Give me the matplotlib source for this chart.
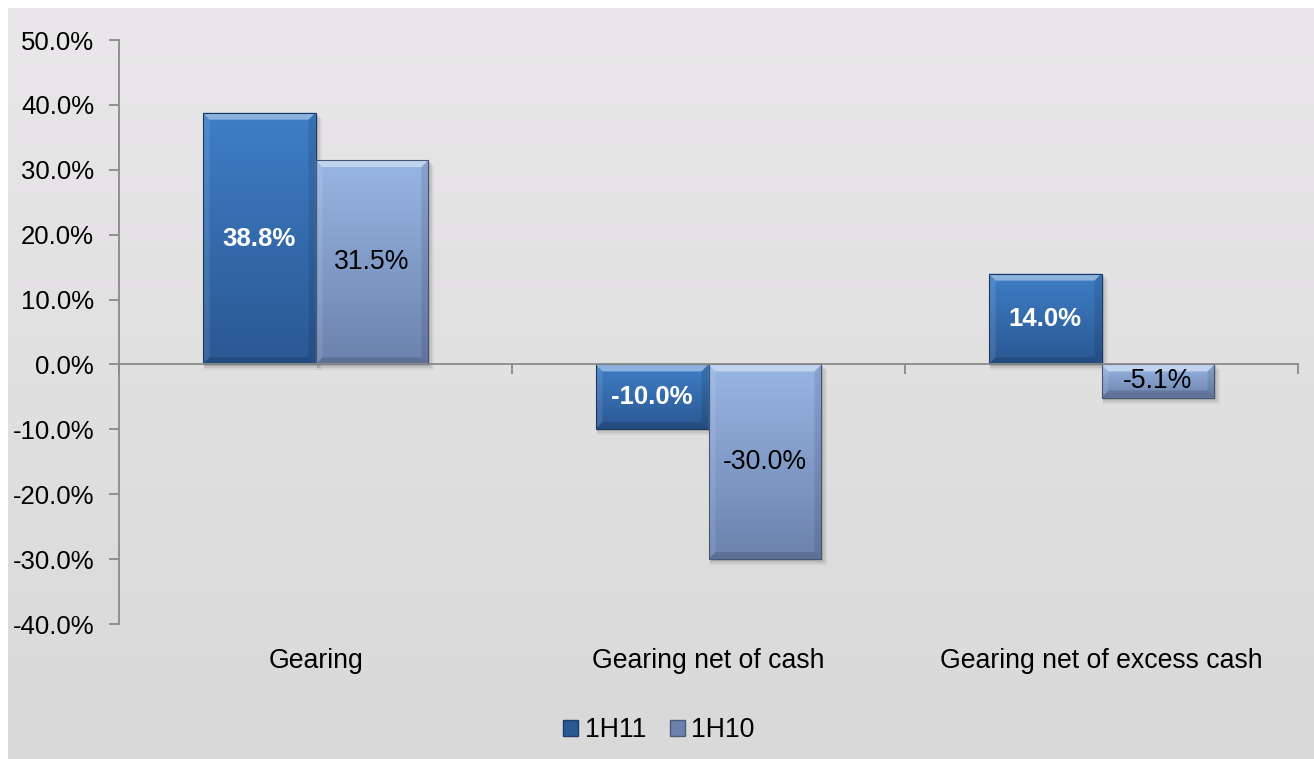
import numpy as np
import matplotlib
matplotlib.use("Agg")
import matplotlib.pyplot as plt
from matplotlib.patches import Polygon, Rectangle
from matplotlib.colors import LinearSegmentedColormap, to_rgb
from matplotlib.ticker import FuncFormatter

# ---- data -------------------------------------------------------------
categories = ["Gearing", "Gearing net of cash", "Gearing net of excess cash"]
series_names = ["1H11", "1H10"]
values_1h11 = [38.8, -10.0, 14.0]
values_1h10 = [31.5, -30.0, -5.1]
y_ticks = [50, 40, 30, 20, 10, 0, -10, -20, -30, -40]

# ---- styling ----------------------------------------------------------
plt.rcParams["font.family"] = ["Liberation Sans", "DejaVu Sans"]
FS = 18.5
FS_CAT = 19.2
AXIS_GREY = "#8a8a8a"
grad_1h11 = ("#3f7ec6", "#2a5893")
grad_1h10 = ("#98b6e4", "#6c82ad")

W, H = 1314, 759
fig = plt.figure(figsize=(W / 100, H / 100), dpi=100)
fig.patch.set_facecolor("white")

# soft grey panel behind the chart
bg = fig.add_axes([8 / W, 0, 1 - 8 / W, 1 - 8 / H])
bg.set_axis_off()
grad = np.linspace(0, 1, 256).reshape(-1, 1)
bg_cmap = LinearSegmentedColormap.from_list("bg", ["#e9e7e9", "#d9d9d9"])
bg.imshow(grad, aspect="auto", cmap=bg_cmap, extent=[0, 1, 0, 1], origin="upper")
bg.set_xlim(0, 1)
bg.set_ylim(0, 1)

ax = fig.add_axes([119 / W, 1 - 624 / H, 1179 / W, 584 / H])
ax.patch.set_alpha(0)

x = np.arange(len(categories))
width = 0.2875
bars_a = ax.bar(x - width / 2, values_1h11, width, color=grad_1h11[0], zorder=3)
bars_b = ax.bar(x + width / 2, values_1h10, width, color=grad_1h10[0], zorder=3)

ax.set_xlim(-0.5, 2.5)
ax.set_ylim(-40, 50)

# pixel-size helpers (figure layout is fixed)
px_x = 3.0 / 1179.0   # data units per pixel, x
px_y = 90.0 / 584.0   # data units per pixel, y


def mix(c, other, t):
    c = np.array(to_rgb(c))
    o = np.array(to_rgb(other))
    return tuple(c * (1 - t) + o * t)


def bevel_bar(rect, top_c, bot_c):
    x0, w = rect.get_x(), rect.get_width()
    y0, h = rect.get_y(), rect.get_height()
    ylo, yhi = min(y0, y0 + h), max(y0, y0 + h)
    rect.set_visible(False)

    # drop shadow
    for k, a in [(6, 0.05), (4, 0.08), (2, 0.11)]:
        ax.add_patch(Rectangle((x0 + 1 * px_x, ylo - k * px_y), w + (k - 1) * px_x,
                               yhi - ylo + 1 * px_y, facecolor="black", alpha=a,
                               edgecolor="none", zorder=2))

    # body gradient
    cmap = LinearSegmentedColormap.from_list("b", [top_c, bot_c])
    body = Rectangle((x0, ylo), w, yhi - ylo, facecolor="none", edgecolor="none", zorder=3)
    ax.add_patch(body)
    im = ax.imshow(grad, aspect="auto", cmap=cmap, origin="upper",
                   extent=[x0, x0 + w, ylo, yhi], zorder=3)
    im.set_clip_path(body)

    # bevel edges
    bx, by = 7 * px_x, 7 * px_y
    by = min(by, (yhi - ylo) / 2)
    top = [(x0, yhi), (x0 + w, yhi), (x0 + w - bx, yhi - by), (x0 + bx, yhi - by)]
    bottom = [(x0, ylo), (x0 + w, ylo), (x0 + w - bx, ylo + by), (x0 + bx, ylo + by)]
    left = [(x0, yhi), (x0 + bx, yhi - by), (x0 + bx, ylo + by), (x0, ylo)]
    right = [(x0 + w, yhi), (x0 + w - bx, yhi - by), (x0 + w - bx, ylo + by), (x0 + w, ylo)]
    ax.add_patch(Polygon(top, closed=True, facecolor=mix(top_c, "white", 0.4),
                         edgecolor="none", zorder=4))
    ax.add_patch(Polygon(left, closed=True, facecolor="white", alpha=0.10,
                         edgecolor="none", zorder=4))
    ax.add_patch(Polygon(right, closed=True, facecolor="black", alpha=0.10,
                         edgecolor="none", zorder=4))
    ax.add_patch(Polygon(bottom, closed=True, facecolor="black", alpha=0.14,
                         edgecolor="none", zorder=4))
    ax.add_patch(Rectangle((x0, ylo), w, yhi - ylo, facecolor="none",
                           edgecolor=mix(bot_c, "black", 0.35), linewidth=0.8, zorder=5))


for r in bars_a:
    bevel_bar(r, *grad_1h11)
for r in bars_b:
    bevel_bar(r, *grad_1h10)

# value labels
for r, v in zip(bars_a, values_1h11):
    ax.text(r.get_x() + r.get_width() / 2, v / 2, f"{v:.1f}%", ha="center", va="center",
            fontsize=FS, fontweight="bold", color="white", zorder=6)
for r, v in zip(bars_b, values_1h10):
    ax.text(r.get_x() + r.get_width() / 2, v / 2, f"{v:.1f}%", ha="center", va="center",
            fontsize=FS_CAT, color="black", zorder=6)

# axes
for s in ["top", "right"]:
    ax.spines[s].set_visible(False)
ax.spines["left"].set_color(AXIS_GREY)
ax.spines["left"].set_linewidth(1.3)
ax.spines["bottom"].set_position(("data", 0))
ax.spines["bottom"].set_color(AXIS_GREY)
ax.spines["bottom"].set_linewidth(1.3)
ax.spines["bottom"].set_zorder(6)

ax.set_yticks(y_ticks)
ax.yaxis.set_major_formatter(FuncFormatter(lambda v, p: f"{v:.1f}%"))
ax.tick_params(axis="y", direction="out", length=7, width=1.3, color=AXIS_GREY,
               labelsize=FS, pad=11)
ax.set_xticks([-0.5, 0.5, 1.5, 2.5])
ax.set_xticklabels([])
ax.tick_params(axis="x", direction="out", length=7, width=1.3, color=AXIS_GREY)

# category labels below the plot area
for xi, name in zip(x, categories):
    ax.text(xi, -37 / 584, name, transform=ax.get_xaxis_transform(), ha="center",
            va="center", fontsize=FS_CAT, color="black")

# legend
handles = [Rectangle((0, 0), 1, 1, facecolor=grad_1h11[1], edgecolor=mix(grad_1h11[1], "black", 0.3)),
           Rectangle((0, 0), 1, 1, facecolor=grad_1h10[1], edgecolor=mix(grad_1h10[1], "black", 0.3))]
fig.legend(handles, series_names, loc="center", bbox_to_anchor=(659 / W, 1 - 730 / H),
           ncol=2, frameon=False, fontsize=FS_CAT, handlelength=0.55, handleheight=0.55,
           handletextpad=0.25, columnspacing=0.9)

fig.savefig("out.png", dpi=100)
